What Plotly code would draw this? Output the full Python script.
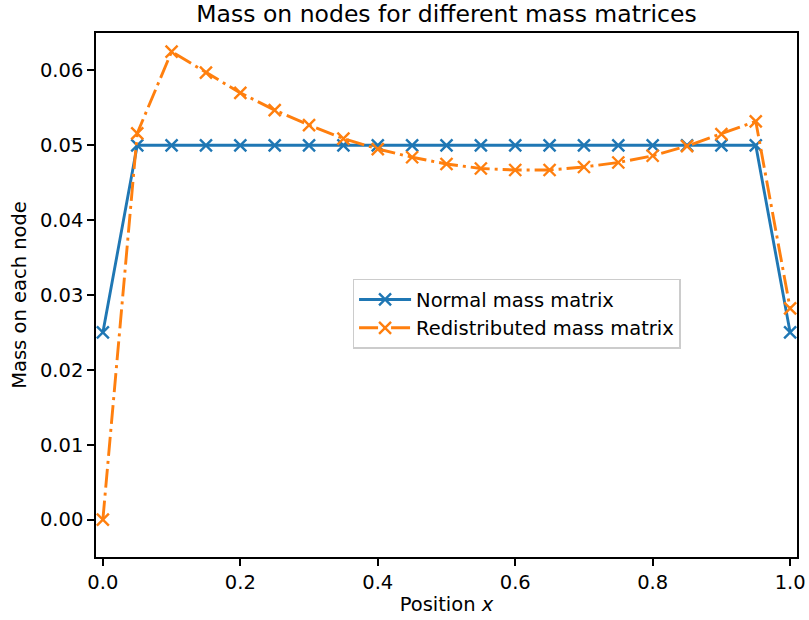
import plotly.graph_objects as go

x_pos = [round(0.05 * i, 2) for i in range(21)]
normal_mass = [0.025] + [0.05] * 19 + [0.025]
redistributed_mass = [0.0, 0.0516, 0.0625, 0.0597, 0.0570, 0.0547, 0.0527, 0.0509,
                      0.0495, 0.0484, 0.0475, 0.0469, 0.0467, 0.0467, 0.0471, 0.0477,
                      0.0486, 0.0499, 0.0515, 0.0532, 0.0282]
x_ticks = [0.0, 0.2, 0.4, 0.6, 0.8, 1.0]
y_ticks = [0.00, 0.01, 0.02, 0.03, 0.04, 0.05, 0.06]

FONT = "DejaVu Sans"
FS = 19.5

fig = go.Figure()
fig.add_trace(go.Scatter(
    x=x_pos, y=normal_mass, mode="lines+markers", name="Normal mass matrix",
    line=dict(color="#1f77b4", width=2.9),
    marker=dict(symbol="x-thin", size=12, line=dict(width=2.4, color="#1f77b4"), color="#1f77b4"),
))
fig.add_trace(go.Scatter(
    x=x_pos, y=redistributed_mass, mode="lines+markers", name="Redistributed mass matrix",
    line=dict(color="#ff7f0e", width=2.9, dash="19px,5px,3px,5px"),
    marker=dict(symbol="x-thin", size=12, line=dict(width=2.4, color="#ff7f0e"), color="#ff7f0e"),
))

axis_common = dict(
    showline=True, linecolor="black", linewidth=1.5, mirror=True,
    ticks="outside", ticklen=7, tickwidth=1.5, tickcolor="black",
    showgrid=False, zeroline=False, automargin=False,
    tickfont=dict(family=FONT, size=FS, color="black"),
)

fig.update_layout(
    width=809, height=620,
    margin=dict(l=96, r=12, t=33, b=63, autoexpand=False),
    paper_bgcolor="white", plot_bgcolor="white",
    title=dict(text="Mass on nodes for different mass matrices", x=0.5, xanchor="center",
               xref="paper", yref="container", y=0.977, yanchor="middle", automargin=False,
               font=dict(family=FONT, size=23.5, color="black")),
    xaxis=dict(range=[-0.01, 1.01], tickvals=x_ticks, ticktext=[f"{v:.1f}" for v in x_ticks],
               title=dict(text="Position <i>x</i>", font=dict(family=FONT, size=FS, color="black"), standoff=4),
               **axis_common),
    yaxis=dict(range=[-0.005, 0.065], tickvals=y_ticks, ticktext=[f"{v:.2f}" for v in y_ticks],
               title=dict(text="Mass on each node", font=dict(family=FONT, size=FS, color="black"), standoff=8),
               **axis_common),
    legend=dict(x=0.366, y=0.531, xanchor="left", yanchor="top",
                bgcolor="rgba(255,255,255,0.8)", bordercolor="#cccccc", borderwidth=1.5,
                itemwidth=52,
                font=dict(family=FONT, size=FS, color="black"), tracegroupgap=0),
    showlegend=True,
)

fig.write_html("out.html", config={"displayModeBar": False},
               post_script="document.body.style.margin='0';document.body.style.padding='0';")
